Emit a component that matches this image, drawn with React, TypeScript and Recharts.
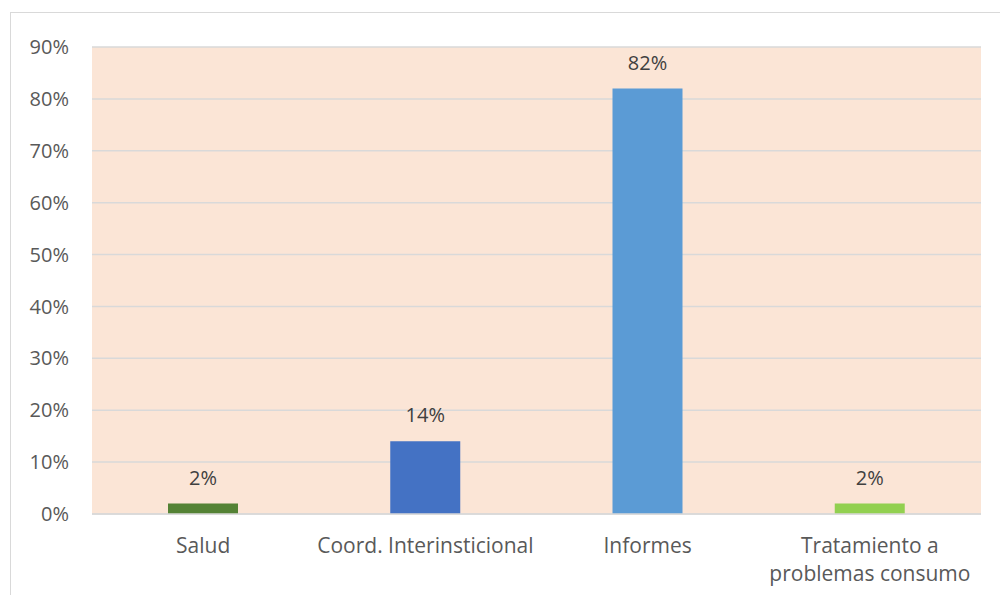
import React from "react";
import { BarChart, Bar, XAxis, YAxis, CartesianGrid, LabelList, Cell } from "recharts";

const categories = ["Salud", "Coord. Interinsticional", "Informes", "Tratamiento a\nproblemas consumo"];
const values = [2, 14, 82, 2];
const barColors = ["#548235", "#4472C4", "#5B9BD5", "#92D050"];
const yTicks = [0, 10, 20, 30, 40, 50, 60, 70, 80, 90];

const data = categories.map((name, i) => ({ name, value: values[i] }));

const FONT = "'Open Sans', sans-serif";

// multi-line category tick
const CategoryTick = ({ x, y, payload }: any) => {
  const lines = String(payload.value).split("\n");
  return (
    <text x={x} y={y} textAnchor="middle" fill="#595959" fontSize={21} fontFamily={FONT}>
      {lines.map((line, i) => (
        <tspan key={i} x={x} dy={i === 0 ? 31 : 28}>
          {line}
        </tspan>
      ))}
    </text>
  );
};

export default function App() {
  return (
    <div style={{ position: "absolute", left: 0, top: 0, width: 1000, height: 595, overflow: "hidden", background: "#fff" }}>
      <div
        style={{
          position: "absolute",
          left: 10,
          top: 12,
          width: 1100,
          height: 700,
          border: "1px solid #D9D9D9",
        }}
      />
      <div style={{ position: "absolute", left: 0, top: 0 }}>
        <BarChart width={1000} height={595} data={data} margin={{ top: 47, right: 19, bottom: 0, left: 0 }}>
          <CartesianGrid vertical={false} stroke="#D9D9D9" strokeWidth={1.5} fill="#FBE5D6" fillOpacity={1} />
          <XAxis
            dataKey="name"
            height={81}
            axisLine={{ stroke: "#D9D9D9", strokeWidth: 1.5 }}
            tickLine={false}
            interval={0}
            tick={<CategoryTick />}
          />
          <YAxis
            width={92}
            domain={[0, 90]}
            ticks={yTicks}
            axisLine={false}
            tickLine={false}
            tickMargin={17}
            tickFormatter={(v: number) => `${v}%`}
            tick={{ fill: "#595959", fontSize: 20, fontFamily: FONT }}
          />
          <Bar dataKey="value" barSize={70} isAnimationActive={false}>
            {data.map((d, i) => (
              <Cell key={d.name} fill={barColors[i]} />
            ))}
            <LabelList
              dataKey="value"
              position="top"
              offset={19}
              formatter={(v: any) => `${v}%`}
              style={{ fill: "#404040", fontSize: 20, fontFamily: FONT }}
            />
          </Bar>
        </BarChart>
      </div>
    </div>
  );
}
